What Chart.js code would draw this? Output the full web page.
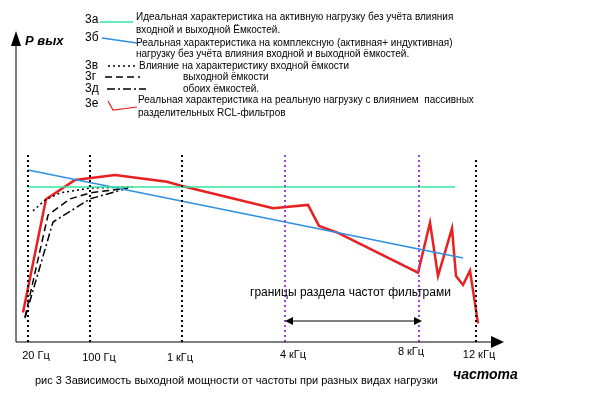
<!DOCTYPE html>
<html><head><meta charset="utf-8">
<script src="https://cdn.jsdelivr.net/npm/chart.js@4"></script>
<style>html,body{margin:0;padding:0;background:#fff}</style>
</head><body>
<canvas id="c" width="604" height="416"></canvas>
<script>
// abstract positions (x: frequency position, y: relative output power)
const ideal = [[28,51.7],[455,51.7]];
const complexLoad = [[28,57.3],[463,28]];
const inputCap = [[33,43.7],[45,47.3],[60,49.7],[90,51.3],[133,51.7]];
const outputCap = [[25,8.3],[48,42.3],[70,47.7],[90,49.7],[127,51.3]];
const bothCap = [[25,8],[53,40],[90,47.7],[128,51.3]];
const realLoad = [[23,9.8],[46,47.6],[75,54],[115,55.7],[167,53.4],[182,52],[273,44.6],[308,45.7],[319,38.7],[338,36.4],[418,23.1],[430,39.8],[438,22],[452,37.9],[456,22],[463,19],[470,23.8],[478,6.2]];
const gridX = [28,90,182,285,419,476];
const gridTop = [63,63,63,63,63,60.7];
const tickLabels = ["20 Гц","100 Гц","1 кГц","4 кГц","8 кГц","12 кГц"];
const tickLabelX = [36,99,180,293,411,479];
const tickLabelY = [356,358,358,355,352,355];

const pts = a => a.map(p=>({x:p[0],y:p[1]}));
const ds = [];
gridX.forEach((x,i)=>ds.push({data:[{x:x,y:0},{x:x,y:gridTop[i]}],borderColor:(i==3||i==4)?'#a040e0':'#000',borderWidth:2,borderDash:[2,3],pointRadius:0}));
ds.push({data:pts(ideal),borderColor:'#33e6a0',borderWidth:1.5,pointRadius:0});
ds.push({data:pts(complexLoad),borderColor:'#2f8fe0',borderWidth:1.5,pointRadius:0});
ds.push({data:pts(inputCap),borderColor:'#000',borderWidth:1.5,borderDash:[2,3],pointRadius:0});
ds.push({data:pts(outputCap),borderColor:'#000',borderWidth:1.5,borderDash:[7,4],pointRadius:0});
ds.push({data:pts(bothCap),borderColor:'#000',borderWidth:1.5,borderDash:[8,3,2,3],pointRadius:0});
ds.push({data:pts(realLoad),borderColor:'#e82020',borderWidth:2.5,pointRadius:0});

const deco = {id:'deco',afterDraw(ch){
  const c=ch.ctx; c.save();
  c.strokeStyle='#000';c.fillStyle='#000';c.lineWidth=1;
  c.beginPath();c.moveTo(16,342);c.lineTo(16,40);c.moveTo(16,342);c.lineTo(492,342);c.stroke();
  c.beginPath();c.moveTo(16,31);c.lineTo(11,46);c.lineTo(21,46);c.fill();
  c.beginPath();c.moveTo(504,342);c.lineTo(491,336);c.lineTo(491,348);c.fill();
  c.beginPath();c.moveTo(290,321);c.lineTo(416,321);c.stroke();
  c.beginPath();c.moveTo(285,321);c.lineTo(293,317);c.lineTo(293,325);c.fill();
  c.beginPath();c.moveTo(422,321);c.lineTo(414,317);c.lineTo(414,325);c.fill();
  c.textBaseline='middle';
  c.font='bold italic 13px "Liberation Sans"';c.fillText('Р вых',25,41);
  c.font='bold italic 14px "Liberation Sans"';c.fillText('частота',453,375);
  c.font='11px "Liberation Sans"';
  c.fillText('рис 3 Зависимость выходной мощности от частоты при разных видах нагрузки',35,381);
  c.font='12px "Liberation Sans"';
  c.fillText('границы раздела частот фильтрами',250,293);
  c.textAlign='center';c.font='11px "Liberation Sans"';
  tickLabels.forEach((t,i)=>c.fillText(t,tickLabelX[i],tickLabelY[i]));
  c.textAlign='left';
  const L=(t,x,y)=>c.fillText(t,x,y);
  c.font='12px "Liberation Sans"';
  L('3а',85,20);L('3б',85,38);L('3в',85,66);L('3г',85,77);L('3д',85,89);L('3е',85,104);
  c.font='10px "Liberation Sans"';
  L('Идеальная характеристика на активную нагрузку без учёта влияния',136,17);
  L('входной и выходной Ёмкостей.',136,30);
  L('Реальная характеристика на комплексную (активная+ индуктивная)',136,43);
  L('нагрузку без учёта влияния входной и выходной ёмкостей.',136,54);
  L('Влияние на характеристику входной ёмкости',139,66);
  L('выходной ёмкости',183,77);
  L('обоих ёмкостей.',183,89);
  L('Реальная характеристика на реальную нагрузку с влиянием  пассивных',138,100);
  L('разделительных RCL-фильтров',138,113);
  const seg=(col,w,dash,p)=>{c.strokeStyle=col;c.lineWidth=w;c.setLineDash(dash);c.beginPath();c.moveTo(p[0][0],p[0][1]);for(let i=1;i<p.length;i++)c.lineTo(p[i][0],p[i][1]);c.stroke();};
  seg('#33e6a0',1.5,[],[[100,22],[133,22]]);
  seg('#2f8fe0',1.5,[],[[102,38],[137,43]]);
  seg('#000',1.5,[2,3],[[108,66],[137,66]]);
  seg('#000',1.5,[7,4],[[105,77],[140,77]]);
  seg('#000',1.5,[8,3,2,3],[[107,89],[146,89]]);
  seg('#e82020',1.2,[],[[108,101],[113,110],[137,107]]);
  c.restore();
}};

new Chart(document.getElementById('c'),{type:'line',data:{datasets:ds},
 options:{responsive:false,animation:false,devicePixelRatio:1,layout:{padding:0},
  plugins:{legend:{display:false},tooltip:{enabled:false}},
  scales:{x:{type:'linear',min:0,max:604,display:false},y:{min:-74/3,max:114,display:false}}},
 plugins:[deco]});
</script>
</body></html>
